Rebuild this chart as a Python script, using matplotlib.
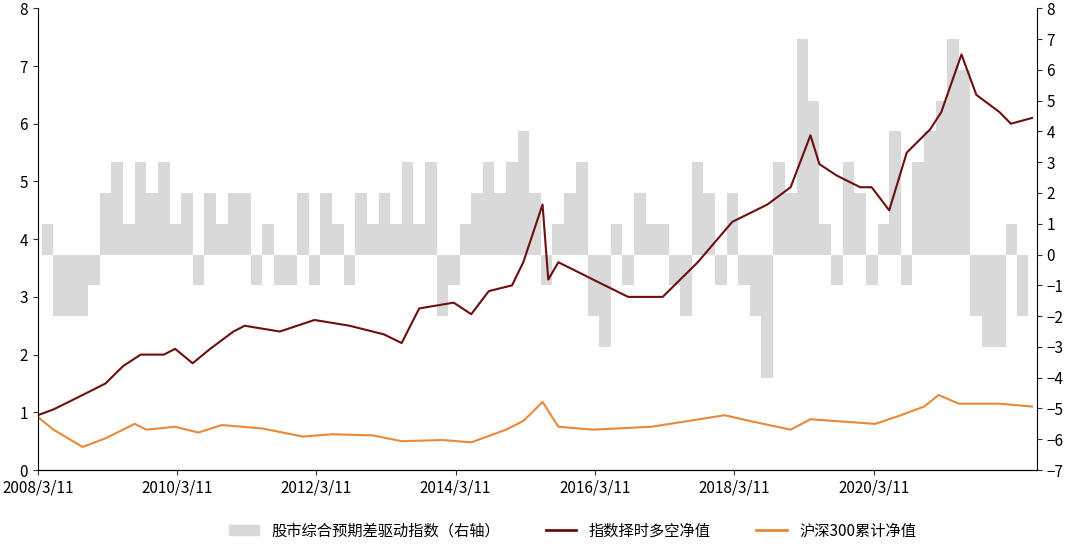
import numpy as np
import pandas as pd
import matplotlib.pyplot as plt
import matplotlib.dates as mdates
from matplotlib.patches import Patch
from matplotlib.lines import Line2D

plt.rcParams['font.family'] = ['Noto Sans CJK SC', 'DejaVu Sans']

# strategy net value (dark red), read at key dates
strat_dates = ["2008-03-11", "2008-06-01", "2008-09-01", "2008-12-01", "2009-03-01", "2009-06-01", "2009-09-01",
               "2010-01-01", "2010-03-01", "2010-06-01", "2010-09-01", "2011-01-01", "2011-03-01", "2011-09-01",
               "2012-03-01", "2012-09-01", "2013-03-01", "2013-06-01", "2013-09-01", "2014-03-01", "2014-06-01",
               "2014-09-01", "2015-01-01", "2015-03-01", "2015-06-10", "2015-07-10", "2015-09-01", "2016-01-01",
               "2016-03-01", "2016-09-01", "2017-03-01", "2017-09-01", "2018-03-01", "2018-09-01", "2019-01-01",
               "2019-04-15", "2019-06-01", "2019-09-01", "2020-01-01", "2020-03-01", "2020-06-01", "2020-09-01",
               "2021-01-01", "2021-03-01", "2021-06-15", "2021-09-01", "2022-01-01", "2022-03-01", "2022-06-20"]
strat_vals = [0.95, 1.05, 1.2, 1.35, 1.5, 1.8, 2.0,
              2.0, 2.1, 1.85, 2.1, 2.4, 2.5, 2.4,
              2.6, 2.5, 2.35, 2.2, 2.8, 2.9, 2.7,
              3.1, 3.2, 3.6, 4.6, 3.3, 3.6, 3.4,
              3.3, 3.0, 3.0, 3.6, 4.3, 4.6, 4.9,
              5.8, 5.3, 5.1, 4.9, 4.9, 4.5, 5.5,
              5.9, 6.2, 7.2, 6.5, 6.2, 6.0, 6.1]

# HS300 cumulative net value (orange)
hs_dates = ["2008-03-11", "2008-06-01", "2008-11-01", "2009-03-01", "2009-08-01", "2009-10-01", "2010-03-01",
            "2010-07-01", "2010-11-01", "2011-06-01", "2012-01-01", "2012-06-01", "2013-01-01", "2013-06-01",
            "2014-01-01", "2014-06-01", "2014-12-01", "2015-03-01", "2015-06-10", "2015-09-01", "2016-03-01",
            "2017-01-01", "2018-01-20", "2018-06-01", "2019-01-01", "2019-04-15", "2020-03-20", "2020-08-01",
            "2020-12-01", "2021-02-15", "2021-06-01", "2022-01-01", "2022-06-20"]
hs_vals = [0.92, 0.7, 0.4, 0.55, 0.8, 0.7, 0.75,
           0.65, 0.78, 0.72, 0.58, 0.62, 0.6, 0.5,
           0.52, 0.48, 0.7, 0.85, 1.18, 0.75, 0.7,
           0.75, 0.95, 0.85, 0.7, 0.88, 0.8, 0.95,
           1.1, 1.3, 1.15, 1.15, 1.1]

# driver index (right axis), bimonthly from 2008/3
bar_vals = [1, -2, -2, -2, -1,
            2, 3, 1, 3, 2, 3,
            1, 2, -1, 2, 1, 2,
            2, -1, 1, -1, -1, 2,
            -1, 2, 1, -1, 2, 1,
            2, 1, 3, 1, 3, -2,
            -1, 1, 2, 3, 2, 3,
            4, 2, -1, 1, 2, 3,
            -2, -3, 1, -1, 2, 1,
            1, -1, -2, 3, 2, -1,
            2, -1, -2, -4, 3, 2,
            7, 5, 1, -1, 3, 2,
            -1, 1, 4, -1, 3, 4,
            5, 7, 6, -2, -3, -3,
            1, -2, 0]
bar_dates = pd.date_range("2008-03-11", periods=len(bar_vals), freq="2MS")

fig, ax = plt.subplots(figsize=(10.8, 5.53), dpi=100)
ax2 = ax.twinx()
ax2.fill_between(bar_dates, bar_vals, 0, step="post", color="#d9d9d9", lw=0)
ax2.set_ylim(-7, 8)
ax2.set_yticks(range(-7, 9))
ax.set_zorder(ax2.get_zorder() + 1)
ax.patch.set_visible(False)

ax.plot(pd.to_datetime(strat_dates), strat_vals, color="#6b0f0f", lw=1.5)
ax.plot(pd.to_datetime(hs_dates), hs_vals, color="#e8893a", lw=1.5)
ax.set_ylim(0, 8)
ax.set_xlim(pd.Timestamp("2008-03-11"), pd.Timestamp("2022-07-15"))
ticks = pd.to_datetime(["2008-03-11", "2010-03-11", "2012-03-11", "2014-03-11", "2016-03-11", "2018-03-11", "2020-03-11"])
ax.set_xticks(ticks)
ax.set_xticklabels([f"{t.year}/3/11" for t in ticks])
for a in (ax, ax2):
    for s in ("top",):
        a.spines[s].set_visible(False)
    a.tick_params(labelsize=11, color="#333333")
ax2.spines["right"].set_visible(False)
ax2.spines["left"].set_visible(False)

handles = [Patch(color="#d9d9d9", label="股市综合预期差驱动指数（右轴）"),
           Line2D([], [], color="#6b0f0f", lw=2, label="指数择时多空净值"),
           Line2D([], [], color="#e8893a", lw=2, label="沪深300累计净值")]
fig.legend(handles=handles, loc="lower center", ncol=3, frameon=False, fontsize=11,
           bbox_to_anchor=(0.53, 0.0), columnspacing=3)
fig.subplots_adjust(left=0.035, right=0.96, top=0.985, bottom=0.15)
fig.savefig("out.png")
